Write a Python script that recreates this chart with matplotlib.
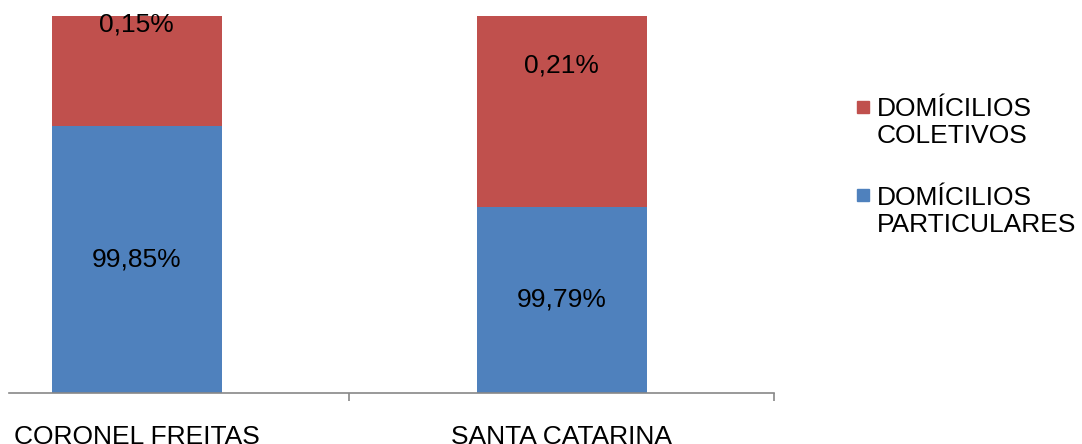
import matplotlib.pyplot as plt
from matplotlib.patches import Rectangle

plt.rcParams['font.family'] = ['Liberation Sans', 'DejaVu Sans']

# data
categories = ['CORONEL FREITAS', 'SANTA CATARINA']
particulares = [99.85, 99.79]
coletivos = [0.15, 0.21]
series_names = ['DOMÍCILIOS\nCOLETIVOS', 'DOMÍCILIOS\nPARTICULARES']
colors = ['#C0504D', '#4F81BD']

W, H = 1082, 444
fig = plt.figure(figsize=(W / 100, H / 100), dpi=100)
ax = fig.add_axes([9 / W, (H - 393) / H, 765 / W, 377 / H])

ymin, ymax = 99.6522, 99.9315
x = list(range(len(categories)))
ax.bar(x, particulares, width=0.4, color=colors[1], zorder=2)
ax.bar(x, coletivos, width=0.4, bottom=particulares, color=colors[0], zorder=2)
ax.set_xlim(-0.3, 1.5)
ax.set_ylim(ymin, ymax)

# data labels
for i in x:
    yb = (ymin + particulares[i]) / 2
    ax.text(i, yb, f'{particulares[i]:.2f}%'.replace('.', ','), ha='center',
            va='center', fontsize=19)
    yr = particulares[i] + coletivos[i] / 2
    ax.text(i, yr, f'{coletivos[i]:.2f}%'.replace('.', ','), ha='center',
            va='center', fontsize=19, clip_on=False)

for s in ['top', 'left', 'right']:
    ax.spines[s].set_visible(False)
ax.spines['bottom'].set_color('#888888')
ax.spines['bottom'].set_linewidth(1.2)
ax.set_yticks([])
ax.set_xticks(x)
ax.set_xticklabels(categories, fontsize=19)
ax.tick_params(axis='x', which='major', length=0, pad=23)
ax.set_xticks([0.5, 1.5], minor=True)
ax.tick_params(axis='x', which='minor', length=6, color='#888888', width=1.2)

# legend drawn by hand
for k, (name, c) in enumerate(zip(series_names, colors)):
    yc = [107.5, 195.5][k]
    fig.add_artist(Rectangle((857 / W, (H - yc - 6) / H), 11.5 / W, 12 / H,
                             transform=fig.transFigure, color=c))
    fig.text(877 / W, (H - [97, 186][k]) / H, name, fontsize=19,
             va='top', ha='left', linespacing=1.15)

fig.savefig('out.png', dpi=100)
